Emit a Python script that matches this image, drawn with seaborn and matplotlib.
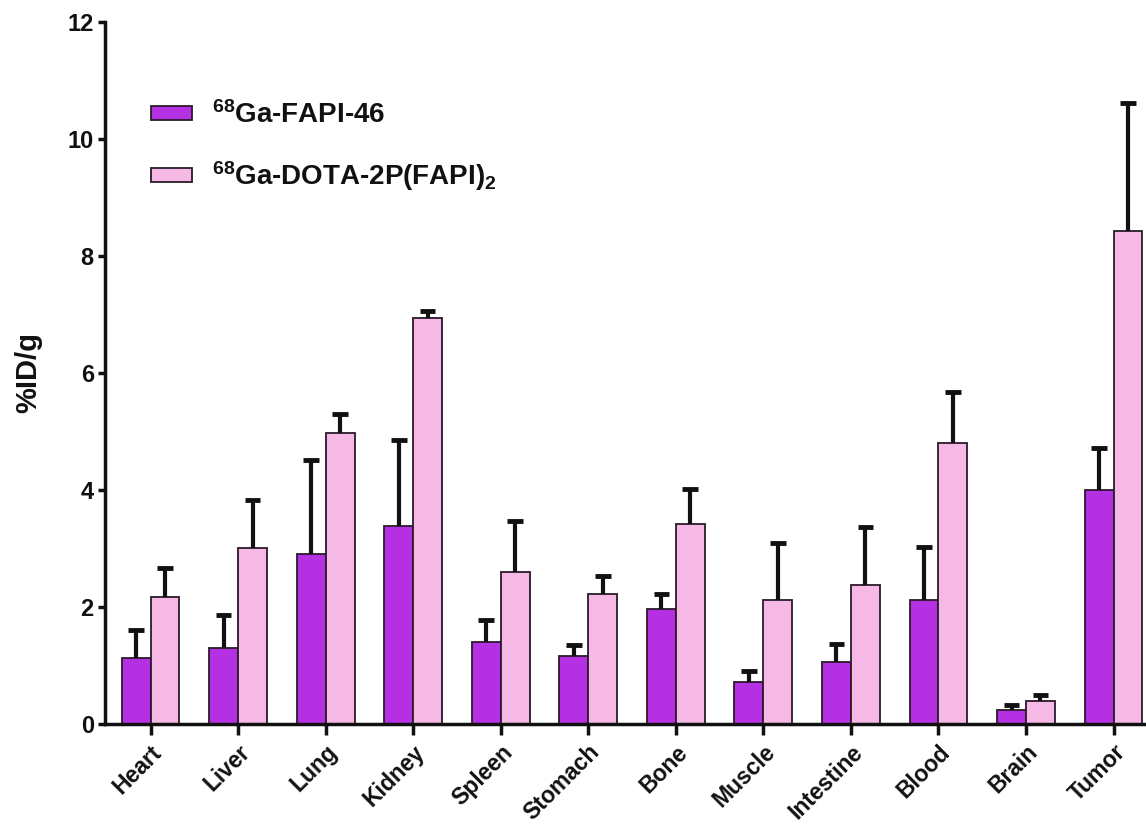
import matplotlib
matplotlib.use("Agg")
import matplotlib.pyplot as plt
import seaborn as sns
import pandas as pd
import numpy as np

organs = ["Heart", "Liver", "Lung", "Kidney", "Spleen", "Stomach", "Bone",
          "Muscle", "Intestine", "Blood", "Brain", "Tumor"]
fapi46_mean = [1.13, 1.30, 2.91, 3.38, 1.40, 1.16, 1.97, 0.71, 1.06, 2.12, 0.23, 4.00]
fapi46_sd = [0.48, 0.56, 1.60, 1.47, 0.38, 0.19, 0.25, 0.19, 0.31, 0.91, 0.09, 0.71]
dota_mean = [2.17, 3.01, 4.97, 6.94, 2.60, 2.22, 3.41, 2.12, 2.38, 4.81, 0.39, 8.43]
dota_sd = [0.50, 0.82, 0.33, 0.12, 0.87, 0.31, 0.60, 0.98, 0.98, 0.86, 0.10, 2.19]
series = [r"$^{68}$Ga-FAPI-46", r"$^{68}$Ga-DOTA-2P(FAPI)$_2$"]
colors = ["#B530E3", "#F6B9E5"]

sns.set_style("ticks")
plt.rcParams["font.family"] = ["Liberation Sans", "DejaVu Sans"]
plt.rcParams["font.weight"] = "bold"
plt.rcParams["mathtext.fontset"] = "custom"
plt.rcParams["mathtext.rm"] = "Liberation Sans:bold"
plt.rcParams["mathtext.it"] = "Liberation Sans:bold"
plt.rcParams["mathtext.bf"] = "Liberation Sans:bold"
for k in ["text.color", "axes.labelcolor", "xtick.color", "ytick.color", "axes.edgecolor"]:
    plt.rcParams[k] = "#111111"

df = pd.DataFrame({
    "organ": organs * 2,
    "value": fapi46_mean + dota_mean,
    "sd": fapi46_sd + dota_sd,
    "series": [series[0]] * len(organs) + [series[1]] * len(organs),
})

fig = plt.figure(figsize=(11.46, 8.33), dpi=100)
ax = fig.add_axes([0.0916, 0.131, 0.9084, 0.8426])

sns.barplot(data=df, x="organ", y="value", hue="series", order=organs,
            hue_order=series, palette=colors, width=0.66, errorbar=None,
            edgecolor="#2a1a2a", linewidth=1.3, ax=ax, saturation=1)

# upper-only error bars at bar centres
cap = 0.09
for container, sds in zip(ax.containers, [fapi46_sd, dota_sd]):
    for bar, sd in zip(container, sds):
        xc = bar.get_x() + bar.get_width() / 2
        top = bar.get_height()
        ax.vlines(xc, top, top + sd, colors="#111111", linewidth=3, zorder=1)
        ax.hlines(top + sd, xc - cap, xc + cap, colors="#111111", linewidth=3.5,
                  zorder=1)

ax.set_xlim(-0.52, 11.37)
ax.set_ylim(0, 12)
ax.set_yticks([0, 2, 4, 6, 8, 10, 12])
ax.set_xlabel("")
ax.set_ylabel("%ID/g", fontsize=21, fontweight="bold", labelpad=18)
ax.tick_params(axis="y", labelsize=17, width=2.5, length=5, pad=3)
ax.tick_params(axis="x", labelsize=16.5, width=2.5, length=8, pad=4)
plt.setp(ax.get_xticklabels(), rotation=45, ha="right", rotation_mode="anchor",
         fontweight="bold")
plt.setp(ax.get_yticklabels(), fontweight="bold")
for s in ["left", "bottom"]:
    ax.spines[s].set_linewidth(2.5)
sns.despine(ax=ax)

leg = ax.legend(loc="upper left", bbox_to_anchor=(0.1195, 0.8956),
                bbox_transform=fig.transFigure, frameon=False, borderpad=0,
                fontsize=20, handlelength=1.47, handleheight=0.4,
                labelspacing=1.1, handletextpad=0.72)
for t in leg.get_texts():
    t.set_fontweight("bold")

fig.savefig("out.png", dpi=100)
